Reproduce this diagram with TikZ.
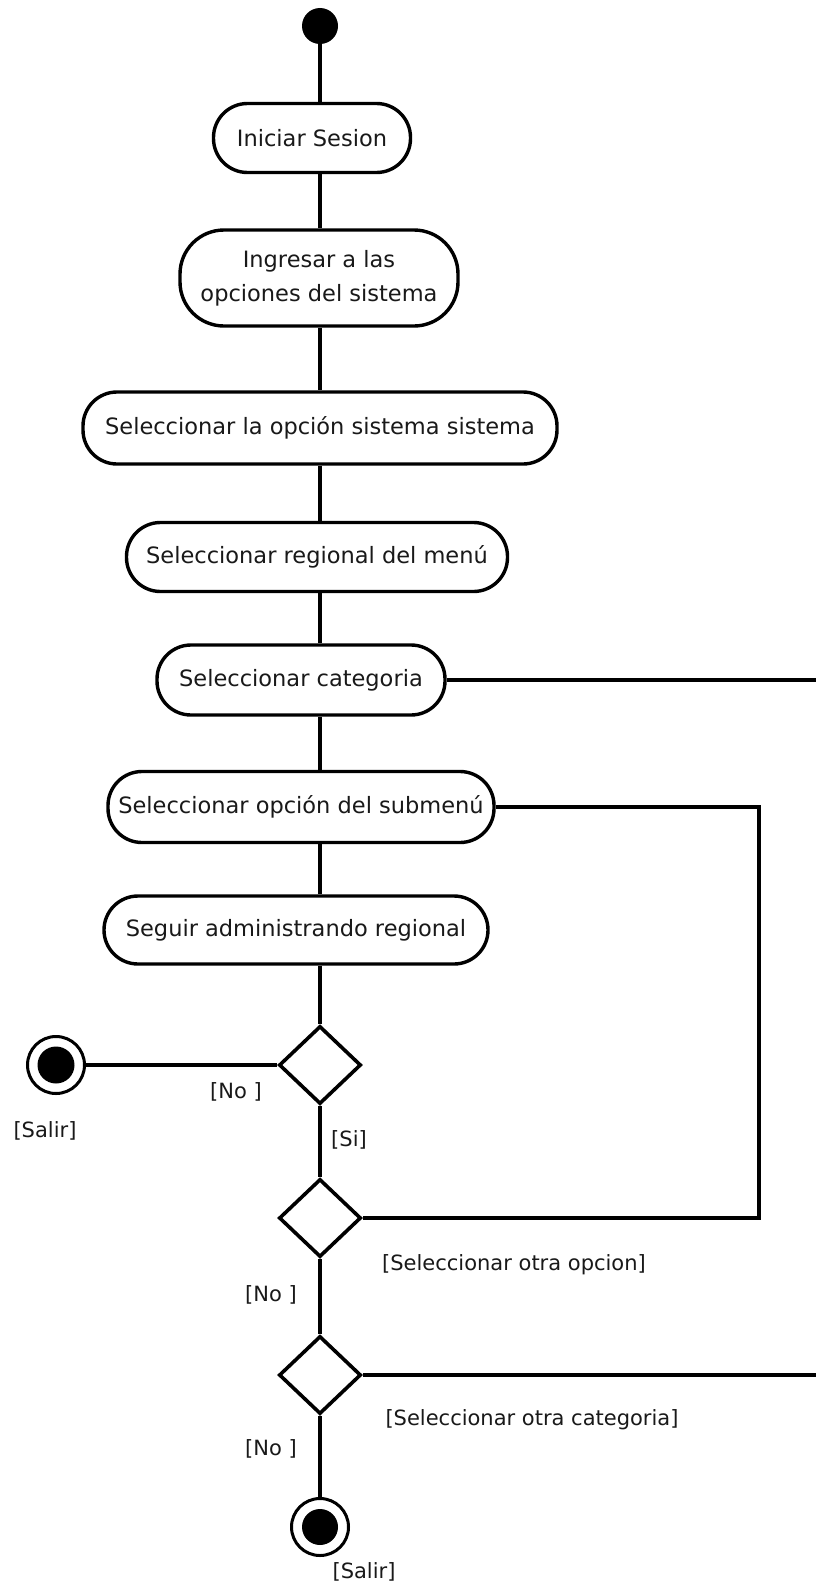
\documentclass[tikz,border=0pt]{standalone}
\usepackage{fontspec}
\setmainfont{DejaVu Sans}
\usetikzlibrary{shapes.geometric}
\begin{document}
\begin{tikzpicture}[x=1pt,y=-1pt,
  every node/.style={text=black!90, font=\fontsize{22.5}{34}\selectfont},
  act/.style={draw=black, line width=3.4pt, rectangle, rounded corners=34pt, inner sep=0pt, align=center, fill=white},
  dec/.style={draw=black, line width=3.6pt, diamond, inner sep=0pt, minimum width=82pt, minimum height=78pt, fill=white},
  endc/.style={draw=black, line width=3pt, circle, inner sep=0pt, minimum size=57pt, fill=white},
  lbl/.style={font=\fontsize{21}{26}\selectfont, inner sep=0pt},
  conn/.style={line width=3.6pt}
]
\useasboundingbox (0,0) rectangle (816,1587);
\fill[white] (0,0) rectangle (816,1587);

\node[circle, fill=black, inner sep=0pt, minimum size=36pt] (start) at (320,26) {};
\node[act, minimum width=197pt, minimum height=69pt] (ini) at (312,138) {Iniciar Sesion};
\node[act, minimum width=278pt, minimum height=96pt, rounded corners=44pt] (ing) at (319,278) {Ingresar a las\\opciones del sistema};
\node[act, minimum width=474pt, minimum height=72pt] (selop) at (320,428) {Seleccionar la opción sistema sistema};
\node[act, minimum width=381pt, minimum height=69pt] (selreg) at (317,557) {Seleccionar regional del menú};
\node[act, minimum width=288pt, minimum height=70pt] (selcat) at (301,680) {Seleccionar categoria};
\node[act, minimum width=386pt, minimum height=71pt] (selsub) at (301,807) {Seleccionar opción del submenú};
\node[act, minimum width=384pt, minimum height=68pt] (seguir) at (296,930) {Seguir administrando regional};
\node[dec] (d1) at (320,1065) {};
\node[dec] (d2) at (320,1218) {};
\node[dec] (d3) at (320,1375) {};
\node[endc] (end1) at (56,1065) {};
\fill (end1) circle (18.5pt);
\node[endc] (end2) at (320,1527) {};
\fill (end2) circle (18pt);

\coordinate (rc) at (816,680);
\coordinate (rd) at (816,1375);
\coordinate (lp) at (759,807);

\draw[conn] (start.south) -- (start.south |- ini.north);
\draw[conn] (ini.south -| start) -- (ing.north -| start);
\draw[conn] (ing.south -| start) -- (selop.north -| start);
\draw[conn] (selop.south -| start) -- (selreg.north -| start);
\draw[conn] (selreg.south -| start) -- (selcat.north -| start);
\draw[conn] (selcat.south -| start) -- (selsub.north -| start);
\draw[conn] (selsub.south -| start) -- (seguir.north -| start);
\draw[conn] (seguir.south -| d1) -- (d1.north);
\draw[conn] (d1.west) -- (end1.east);
\draw[conn] (d1.south) -- (d2.north);
\draw[conn] (d2.south) -- (d3.north);
\draw[conn] (d3.south) -- (end2.north);
\draw[conn] (selcat.east) -- (rc);
\draw[conn] (d3.east) -- (rd);
\draw[conn] (selsub.east) -- (lp) |- (d2.east);

\node[lbl] (l1) at (236,1092) {[No ]};
\node[lbl] (l2) at (45,1131) {[Salir]};
\node[lbl] (l3) at (349,1140) {[Si]};
\node[lbl] (l4) at (514,1265) {[Seleccionar otra opcion]};
\node[lbl] (l5) at (271,1295) {[No ]};
\node[lbl] (l6) at (532,1420) {[Seleccionar otra categoria]};
\node[lbl] (l7) at (271,1449) {[No ]};
\node[lbl] (l8) at (364,1572) {[Salir]};
\end{tikzpicture}
\end{document}
